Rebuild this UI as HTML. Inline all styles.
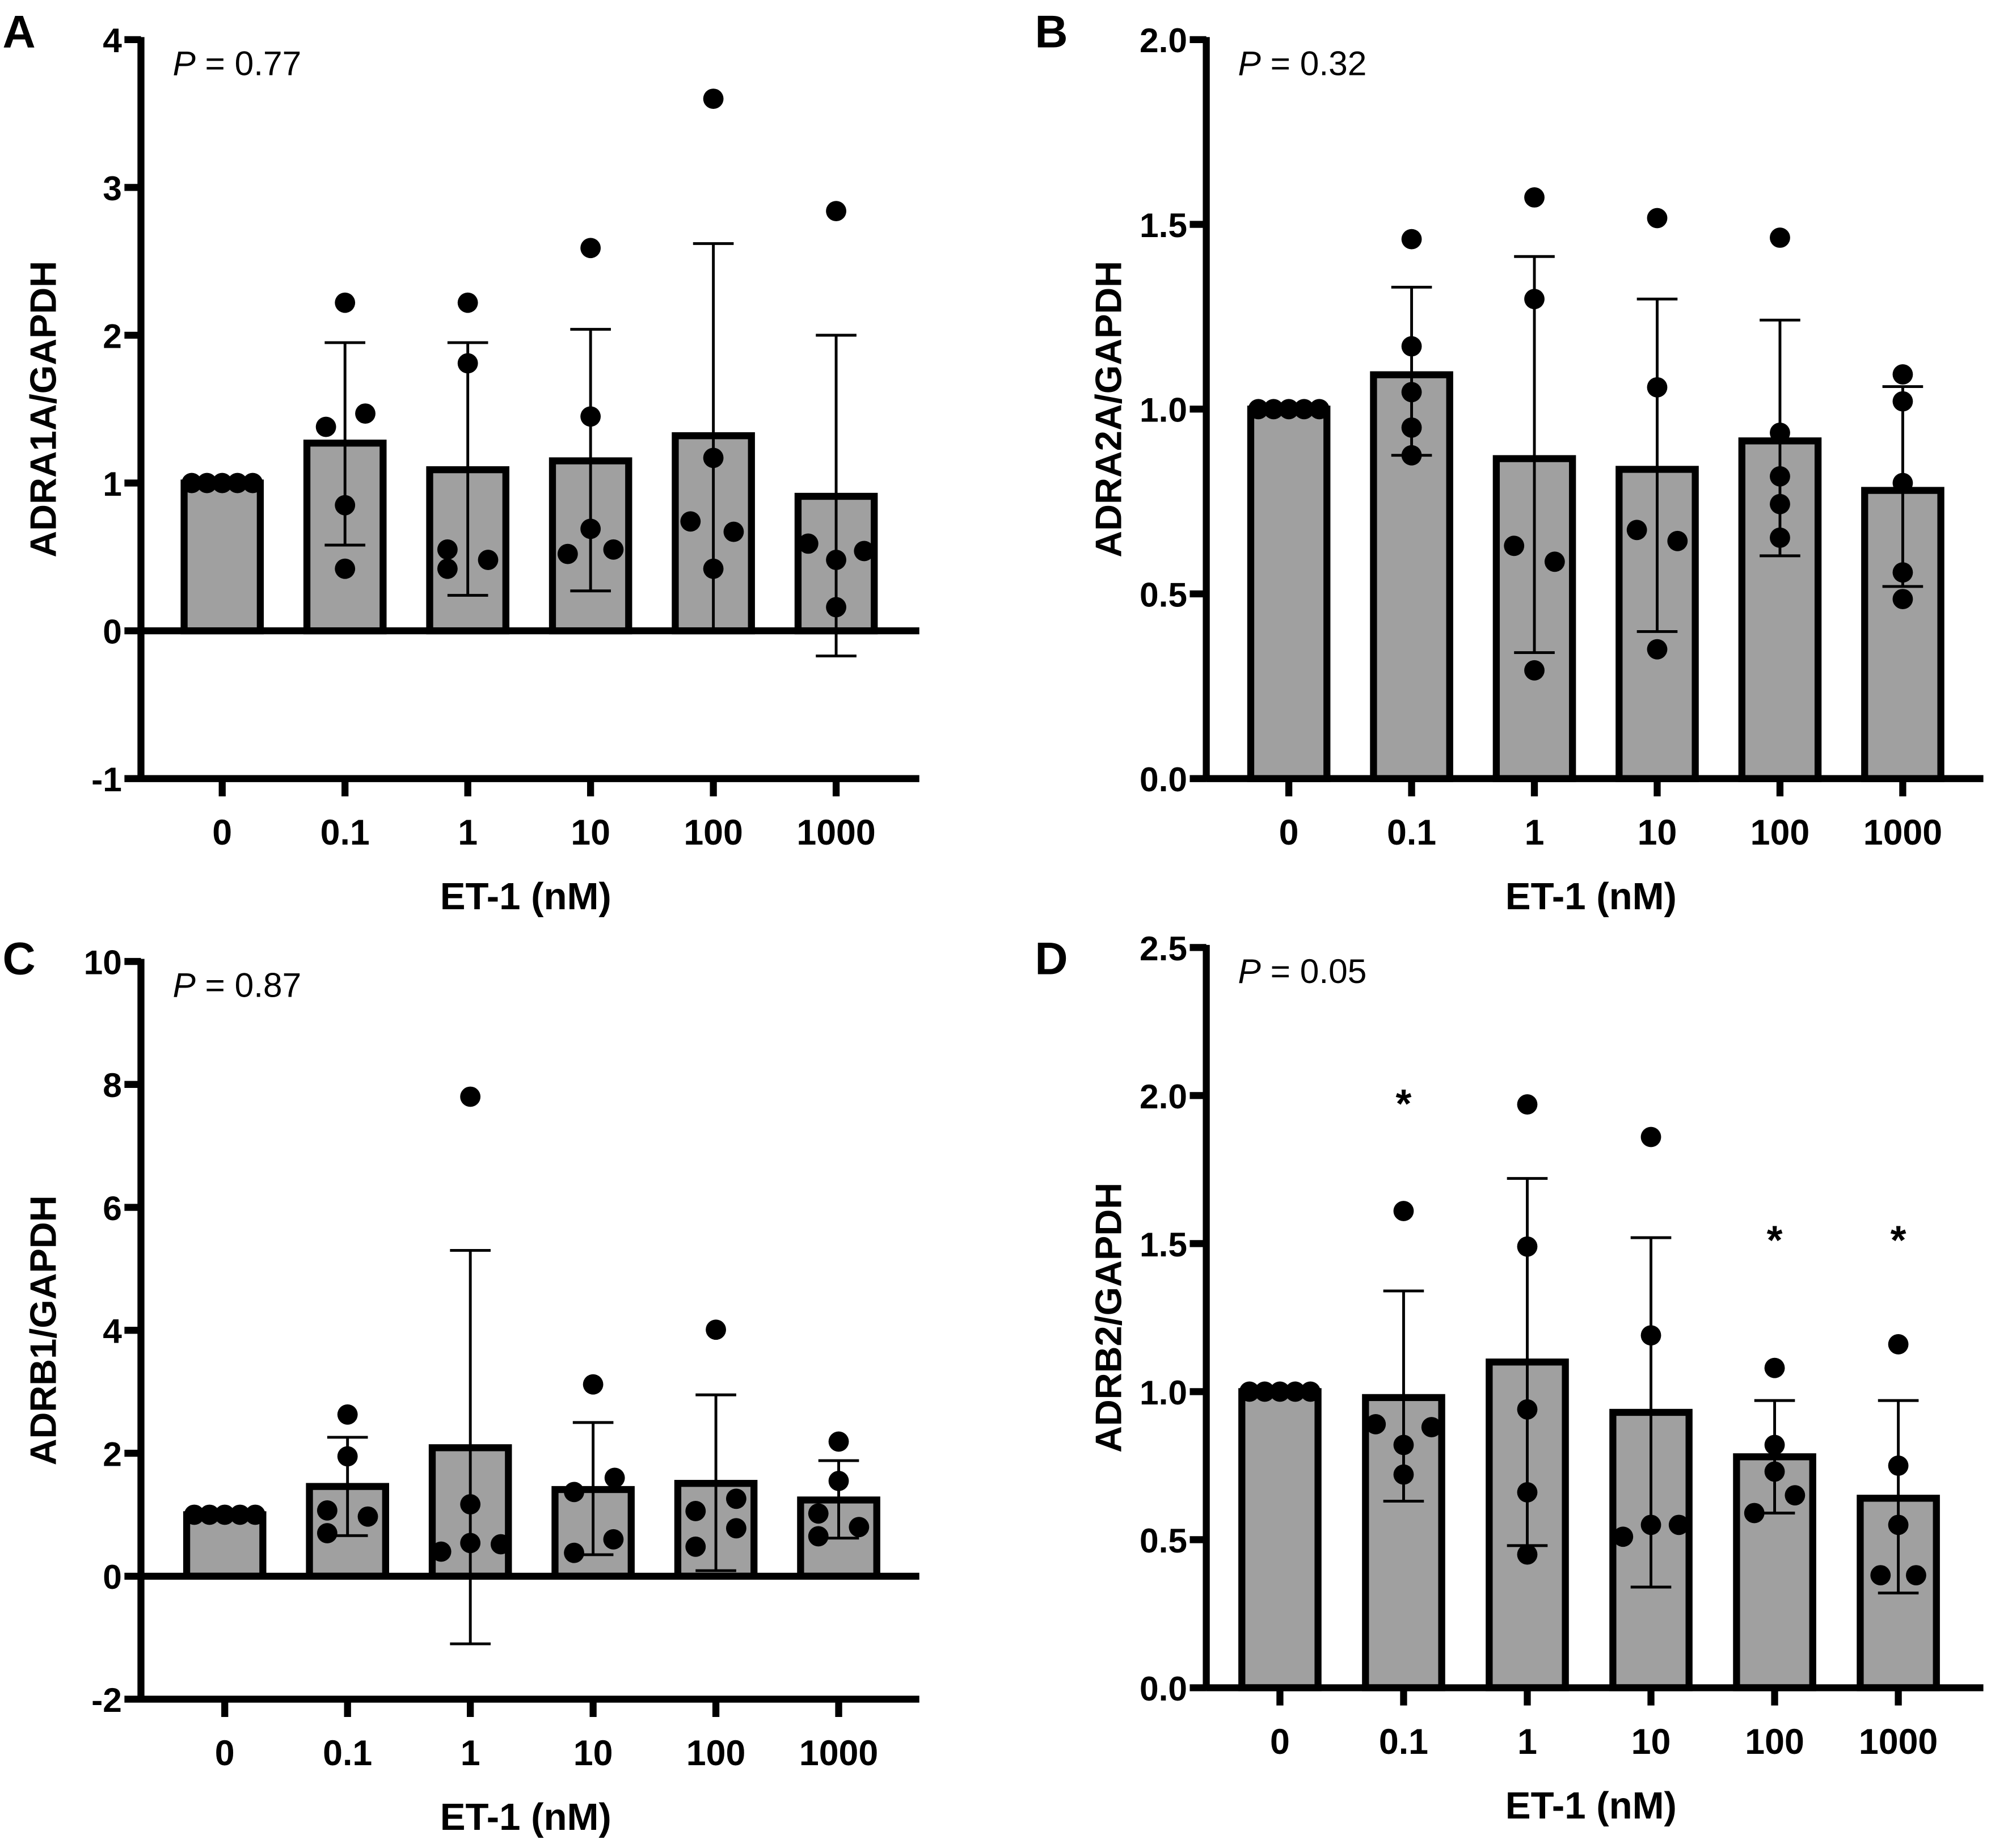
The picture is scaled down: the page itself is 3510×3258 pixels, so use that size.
<!DOCTYPE html>
<html><head><meta charset="utf-8"><style>
html,body{margin:0;padding:0;background:#fff}
svg{display:block}
text{font-family:"Liberation Sans",Arial,sans-serif}
</style></head><body>
<svg id="fig" width="3510" height="3258" viewBox="0 0 1568 1455" xmlns="http://www.w3.org/2000/svg"></svg>
<script>
const categories = ["0","0.1","1","10","100","1000"];
// Panel A
const aMeans = [1,1.27,1.09,1.15,1.32,0.91];
const aHi = [1,1.95,1.95,2.04,2.62,2.0];
const aLo = [1,0.58,0.24,0.27,0.0,-0.17];
const aDots = [[1,1,1,1,1],[2.22,1.38,1.47,0.85,0.42],[2.22,1.81,0.55,0.42,0.48],[2.59,1.45,0.69,0.52,0.55],[3.6,1.17,0.74,0.42,0.67],[2.84,0.59,0.48,0.16,0.54]];
const aTicks = [-1,0,1,2,3,4];
const aTickLabels = ["-1","0","1","2","3","4"];
// Panel B
const bMeans = [1,1.093,0.866,0.837,0.914,0.78];
const bHi = [1,1.33,1.413,1.298,1.241,1.061];
const bLo = [1,0.875,0.341,0.398,0.603,0.52];
const bDots = [[1,1,1,1,1],[1.46,1.17,1.046,0.95,0.875],[1.573,1.298,0.63,0.587,0.293],[1.517,1.059,0.673,0.643,0.35],[1.464,0.936,0.818,0.743,0.652],[1.094,1.021,0.80,0.558,0.486]];
const bTicks = [0,0.5,1.0,1.5,2.0];
const bTickLabels = ["0.0","0.5","1.0","1.5","2.0"];
// Panel C
const cMeans = [1,1.46,2.09,1.41,1.51,1.24];
const cHi = [1,2.26,5.3,2.5,2.95,1.88];
const cLo = [1,0.66,-1.1,0.35,0.09,0.62];
const cDots = [[1,1,1,1,1],[2.63,1.95,1.07,0.97,0.70],[7.8,1.17,0.54,0.52,0.40],[3.12,1.60,1.37,0.60,0.38],[4.01,1.26,1.06,0.78,0.48],[2.19,1.55,1.02,0.80,0.65]];
const cTicks = [-2,0,2,4,6,8,10];
const cTickLabels = ["-2","0","2","4","6","8","10"];
// Panel D
const dMeans = [1,0.98,1.10,0.93,0.78,0.64];
const dHi = [1,1.34,1.72,1.52,0.97,0.97];
const dLo = [1,0.63,0.48,0.34,0.59,0.32];
const dDots = [[1,1,1,1,1],[1.61,0.89,0.88,0.82,0.72],[1.97,1.49,0.94,0.66,0.45],[1.86,1.19,0.51,0.55,0.55],[1.08,0.82,0.73,0.59,0.65],[1.16,0.75,0.55,0.38,0.38]];
const dStars = [null,1.99,null,null,1.53,1.53];
const dTicks = [0,0.5,1.0,1.5,2.0,2.5];
const dTickLabels = ["0.0","0.5","1.0","1.5","2.0","2.5"];

// layout: horizontal jitter (px) for each dot within a group
const jitterSame = [-24,-12,0,12,24];
const jitterA = [[0,0,0,0,0],[0,-15,16,0,0],[0,0,-16,-16,16],[0,0,0,-18,18],[0,0,-18,0,16],[0,-22,0,0,22]];
const jitterB = [[0,0,0,0,0],[0,0,0,0,0],[0,0,-16,16,0],[0,0,-16,16,0],[0,0,0,0,0],[0,0,0,0,0]];
const jitterC = [[0,0,0,0,0],[0,0,-16,16,-16],[0,0,0,24,-23],[0,17,-15,16,-15],[0,16,-16,16,-16],[0,0,-16,16,-16]];
const jitterD = [[0,0,0,0,0],[0,-22,22,0,0],[0,0,0,0,0],[0,0,-22,0,22],[0,0,0,-16,16],[0,0,0,-14,14]];

const NS="http://www.w3.org/2000/svg";
const svg=document.getElementById('fig');
function mk(tag,attrs,parent){const e=document.createElementNS(NS,tag);for(const k in attrs)e.setAttribute(k,attrs[k]);(parent||svg).appendChild(e);return e;}

function panel(p){
  const g=mk('g',{});
  
  
  const y=v=>p.yTop+(p.vMax-v)/(p.vMax-p.vMin)*(p.yBot-p.yTop);
  const x=i=>p.x0+i*p.dx;
  p.means.forEach((m,i)=>{
    const r=mk('rect',{x:x(i)-30,y:Math.min(y(m),y(0)),width:60,height:Math.abs(y(0)-y(m)),fill:'#a0a0a0',stroke:'#000','stroke-width':5.5},g);
    
    
  });
  p.means.forEach((m,i)=>{
    if(p.hi[i]===p.lo[i])return;
    const eg=mk('g',{stroke:'#000','stroke-width':2.2},g);
    
    
    mk('line',{x1:x(i),x2:x(i),y1:y(p.hi[i]),y2:y(p.lo[i])},eg);
    mk('line',{x1:x(i)-16,x2:x(i)+16,y1:y(p.hi[i]),y2:y(p.hi[i])},eg);
    mk('line',{x1:x(i)-16,x2:x(i)+16,y1:y(p.lo[i]),y2:y(p.lo[i])},eg);
  });
  p.dots.forEach((arr,i)=>{
    const same=arr.every(v=>v===arr[0]);
    arr.forEach((v,j)=>{
      const off=same?jitterSame[j]:p.jit[i][j];
      const c=mk('circle',{cx:x(i)+off,cy:y(v),r:8,fill:'#000'},g);
      
      
    });
  });
  if(p.stars)p.stars.forEach((s,i)=>{
    if(s==null)return;
    const t=mk('text',{x:x(i),y:y(s)+15,'font-size':32,'font-weight':'bold','text-anchor':'middle'},g);
    t.textContent='*';
    
    
  });
  const ax=mk('g',{stroke:'#000','stroke-width':5.5,'stroke-linecap':'butt'},g);
  
  
  mk('line',{x1:p.ax,x2:p.ax,y1:p.yTop-2,y2:p.yBot+2},ax);
  mk('line',{x1:p.ax,x2:p.xEnd,y1:p.yBot,y2:p.yBot},ax);
  if(p.vMin<0)mk('line',{x1:p.ax,x2:p.xEnd,y1:y(0),y2:y(0)},ax);
  p.ticks.forEach((t,k)=>{
    mk('line',{x1:p.ax-13,x2:p.ax,y1:y(t),y2:y(t)},ax);
    const tl=mk('text',{x:p.ax-15,y:y(t)+10,'font-size':27,'font-weight':'bold','text-anchor':'end'},g);
    tl.textContent=p.tickLabels[k];
    
    
  });
  categories.forEach((c,i)=>{
    mk('line',{x1:x(i),x2:x(i),y1:p.yBot,y2:p.yBot+14},ax);
    const tl=mk('text',{x:x(i),y:p.yBot+52,'font-size':28,'font-weight':'bold','text-anchor':'middle'},g);
    tl.textContent=c;
    
    
  });
  const xt=mk('text',{x:p.ax+303,y:p.yBot+103,'font-size':30,'font-weight':'bold','text-anchor':'middle'},g);
  xt.textContent='ET-1 (nM)';
  
  
  const yt=mk('text',{x:0,y:0,'font-size':29,'font-weight':'bold','text-anchor':'middle',transform:`translate(${p.ax-67},${(p.yTop+p.yBot)/2}) rotate(-90)`},g);
  yt.textContent=p.ylabel;
  
  
  const pt=mk('text',{x:p.ax+25,y:p.yTop+28,'font-size':27},g);
  pt.innerHTML='<tspan font-style="italic">P</tspan> = '+p.pval;
  
  
  const lt=mk('text',{x:p.lx,y:p.ly,'font-size':36,'font-weight':'bold'},g);
  lt.textContent=p.id;
  
  
}

panel({id:'A',ax:111,yTop:31,yBot:613,vMin:-1,vMax:4,x0:175,dx:96.7,xEnd:724,means:aMeans,hi:aHi,lo:aLo,dots:aDots,jit:jitterA,ticks:aTicks,tickLabels:aTickLabels,ylabel:'ADRA1A/GAPDH',pval:'0.77',lx:2,ly:37});
panel({id:'B',ax:950,yTop:31,yBot:613,vMin:0,vMax:2,x0:1015,dx:96.7,xEnd:1562,means:bMeans,hi:bHi,lo:bLo,dots:bDots,jit:jitterB,ticks:bTicks,tickLabels:bTickLabels,ylabel:'ADRA2A/GAPDH',pval:'0.32',lx:815,ly:37});
panel({id:'C',ax:111,yTop:757,yBot:1338,vMin:-2,vMax:10,x0:177,dx:96.7,xEnd:724,means:cMeans,hi:cHi,lo:cLo,dots:cDots,jit:jitterC,ticks:cTicks,tickLabels:cTickLabels,ylabel:'ADRB1/GAPDH',pval:'0.87',lx:2,ly:767});
panel({id:'D',ax:950,yTop:746,yBot:1329,vMin:0,vMax:2.5,x0:1008,dx:97.4,xEnd:1562,means:dMeans,hi:dHi,lo:dLo,dots:dDots,jit:jitterD,stars:dStars,ticks:dTicks,tickLabels:dTickLabels,ylabel:'ADRB2/GAPDH',pval:'0.05',lx:815,ly:767});
</script>
</body></html>
